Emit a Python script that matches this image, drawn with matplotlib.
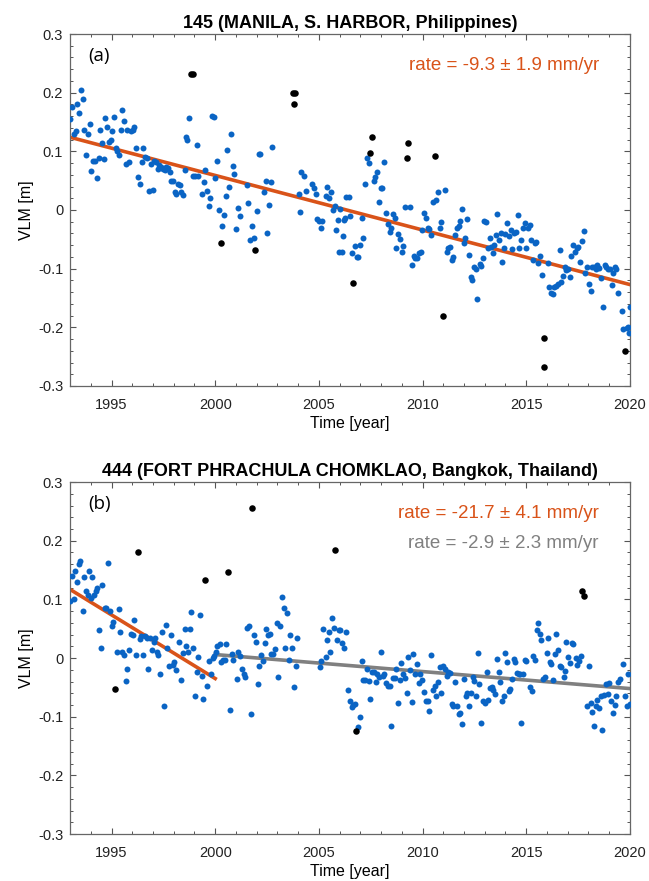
import matplotlib as mpl
mpl.use("agg")
import matplotlib.pyplot as plt
import numpy as np
from matplotlib.ticker import MultipleLocator, FuncFormatter

plt.rcParams["font.family"] = ["Liberation Sans", "DejaVu Sans"]
plt.rcParams["axes.unicode_minus"] = False

BLUE = "#0a64c4"
ORANGE = "#d95319"
GRAY = "#808080"

# ---- panel (a): 145 MANILA ----
a_time = [
    1993.00, 1993.10, 1993.19, 1993.27, 1993.35, 1993.43, 1993.51, 1993.61, 1993.69, 1993.77, 1993.85, 1993.95,
    1994.03, 1994.11, 1994.19, 1994.28, 1994.38, 1994.46, 1994.54, 1994.62, 1994.70, 1994.78, 1994.88, 1994.96,
    1995.04, 1995.12, 1995.20, 1995.28, 1995.36, 1995.44, 1995.52, 1995.60, 1995.68, 1995.76, 1995.84, 1995.92,
    1996.02, 1996.10, 1996.18, 1996.27, 1996.37, 1996.45, 1996.53, 1996.61, 1996.72, 1996.82, 1996.90, 1996.98,
    1997.06, 1997.14, 1997.22, 1997.30, 1997.40, 1997.48, 1997.56, 1997.64, 1997.72, 1997.80, 1997.89, 1997.97,
    1998.05, 1998.13, 1998.21, 1998.29, 1998.37, 1998.46, 1998.52, 1998.59, 1998.65, 1998.73, 1998.91,
    1999.02, 1999.10, 1999.18, 1999.34, 1999.45, 1999.50, 1999.61, 1999.69, 1999.77, 1999.85, 1999.95,
    2000.01, 2000.11, 2000.19, 2000.35, 2000.43, 2000.51, 2000.59, 2000.67, 2000.77, 2000.85, 2000.93,
    2001.01, 2001.10, 2001.18, 2001.52, 2001.60, 2001.68, 2001.76, 2001.86,
    2002.02, 2002.10, 2002.18, 2002.35, 2002.43, 2002.51, 2002.59, 2002.68, 2002.76,
    2004.02, 2004.10, 2004.15, 2004.26, 2004.36, 2004.68, 2004.76, 2004.84, 2004.92,
    2005.00, 2005.08, 2005.16, 2005.32, 2005.40, 2005.48, 2005.60, 2005.68, 2005.76, 2005.84, 2005.92, 2005.99,
    2006.04, 2006.12, 2006.17, 2006.20, 2006.28, 2006.33, 2006.45, 2006.50, 2006.58, 2006.74, 2006.82, 2006.90, 2006.98,
    2007.06, 2007.14, 2007.22, 2007.30, 2007.40, 2007.64, 2007.72, 2007.80, 2007.90, 2007.98,
    2008.06, 2008.14, 2008.24, 2008.32, 2008.41, 2008.48, 2008.56, 2008.65, 2008.74, 2008.82, 2008.91, 2008.99,
    2009.07, 2009.16, 2009.41, 2009.49, 2009.58, 2009.66, 2009.75, 2009.83, 2009.91, 2009.99,
    2010.07, 2010.16, 2010.24, 2010.32, 2010.40, 2010.50, 2010.66, 2010.74, 2010.82, 2010.91,
    2011.08, 2011.16, 2011.24, 2011.32, 2011.41, 2011.49, 2011.58, 2011.66, 2011.74, 2011.82, 2011.91, 2011.99,
    2012.07, 2012.15, 2012.24, 2012.33, 2012.41, 2012.49, 2012.57, 2012.65, 2012.75, 2012.83, 2012.91, 2012.98,
    2013.06, 2013.14, 2013.24, 2013.30, 2013.38, 2013.46, 2013.54, 2013.59, 2013.69, 2013.77, 2013.85, 2013.93, 2013.99,
    2014.09, 2014.17, 2014.25, 2014.33, 2014.40, 2014.49, 2014.59, 2014.67, 2014.75, 2014.85, 2014.93,
    2015.01, 2015.09, 2015.17, 2015.25, 2015.33, 2015.41, 2015.49, 2015.57, 2015.69, 2015.77,
    2016.03, 2016.11, 2016.19, 2016.27, 2016.35, 2016.44, 2016.53, 2016.61, 2016.69, 2016.77, 2016.85, 2016.93,
    2017.01, 2017.09, 2017.17, 2017.27, 2017.35, 2017.43, 2017.51, 2017.61, 2017.70, 2017.78, 2017.86, 2017.95,
    2018.02, 2018.11, 2018.19, 2018.27, 2018.35, 2018.43, 2018.53, 2018.59, 2018.70, 2018.78, 2018.86, 2018.94,
    2019.04, 2019.12, 2019.20, 2019.28, 2019.35, 2019.45, 2019.60, 2019.69, 2019.85, 2019.93, 2019.96, 2020.00,
]
a_vlm = [
    0.155, 0.175, 0.130, 0.135, 0.180, 0.165, 0.205, 0.190, 0.136, 0.094, 0.130, 0.147,
    0.066, 0.083, 0.083, 0.055, 0.089, 0.136, 0.114, 0.087, 0.157, 0.141, 0.116, 0.119,
    0.134, 0.158, 0.105, 0.101, 0.093, 0.136, 0.170, 0.152, 0.078, 0.136, 0.081, 0.135,
    0.136, 0.141, 0.105, 0.057, 0.044, 0.081, 0.105, 0.090, 0.089, 0.032, 0.078, 0.034,
    0.083, 0.081, 0.070, 0.077, 0.074, 0.070, 0.068, 0.074, 0.072, 0.065, 0.050, 0.050,
    0.030, 0.028, 0.045, 0.043, 0.030, 0.026, 0.068, 0.125, 0.119, 0.156, 0.058,
    0.058, 0.111, 0.058, 0.028, 0.048, 0.068, 0.032, 0.007, 0.021, 0.161, 0.158,
    0.054, 0.084, 0.000, -0.028, -0.009, 0.023, 0.103, 0.039, 0.130, 0.075, 0.061,
    -0.033, 0.003, -0.010, 0.043, 0.012, -0.051, -0.027, -0.047,
    -0.001, 0.095, 0.095, 0.031, 0.050, -0.040, 0.009, 0.047, 0.107,
    0.028, -0.003, 0.064, 0.058, 0.032, 0.044, 0.037, 0.028, -0.015,
    -0.019, -0.030, -0.019, 0.023, 0.040, 0.021, 0.030, 0.000, 0.007, -0.034, -0.017, -0.071,
    0.002, -0.071, -0.045, -0.017, -0.014, 0.022, 0.022, -0.011, -0.073, -0.061, -0.080, -0.080, -0.059,
    -0.013, -0.048, 0.044, 0.089, 0.080, 0.049, 0.057, 0.064, 0.013, 0.037,
    0.038, 0.082, -0.005, -0.024, -0.038, -0.030, -0.007, -0.013, -0.065, -0.041, -0.049, -0.071,
    -0.061, 0.005, 0.005, -0.094, -0.078, -0.081, -0.081, -0.073, -0.071, -0.034,
    -0.005, -0.014, -0.030, -0.033, -0.043, 0.013, 0.017, 0.030, -0.030, -0.020,
    0.034, -0.071, -0.065, -0.063, -0.085, -0.080, -0.043, -0.030, -0.028, -0.018, 0.001, -0.057,
    -0.047, -0.015, -0.077, -0.115, -0.119, -0.098, -0.101, -0.152, -0.092, -0.095, -0.081, -0.018,
    -0.020, -0.065, -0.048, -0.063, -0.073, -0.060, -0.043, -0.007, -0.052, -0.040, -0.089, -0.065, -0.041,
    -0.022, -0.044, -0.034, -0.067, -0.040, -0.037, -0.009, -0.065, -0.052, -0.031, -0.022,
    -0.065, -0.031, -0.026, -0.051, -0.085, -0.057, -0.054, -0.091, -0.078, -0.111,
    -0.091, -0.132, -0.142, -0.144, -0.131, -0.130, -0.127, -0.068, -0.123, -0.112, -0.098, -0.103,
    -0.101, -0.115, -0.078, -0.060, -0.071, -0.065, -0.063, -0.089, -0.053, -0.036, -0.108, -0.098,
    -0.126, -0.138, -0.098, -0.097, -0.101, -0.093, -0.099, -0.116, -0.166, -0.094, -0.097, -0.101,
    -0.101, -0.128, -0.108, -0.098, -0.101, -0.142, -0.172, -0.203, -0.201, -0.199, -0.210, -0.166,
]
a_out_time = [1998.83, 1998.92, 2000.27, 2001.94, 2003.75, 2003.85, 2003.80, 2006.65, 2007.48, 2007.58,
              2009.24, 2009.32, 2010.58, 2011.01, 2015.85, 2015.88, 2019.77]
a_out_vlm = [0.232, 0.232, -0.056, -0.068, 0.200, 0.200, 0.180, -0.125, 0.097, 0.124,
             0.089, 0.115, 0.092, -0.180, -0.267, -0.219, -0.240]
# trend: (start year, end year, value at start, rate mm/yr)
a_fits = [(1993.0, 2020.0, 0.124, -9.3)]
a_labels = ["rate = -9.3 \u00b1 1.9 mm/yr"]

# ---- panel (b): 444 FORT PHRACHULA CHOMKLAO ----
b_time = [
    1993.00, 1993.08, 1993.18, 1993.26, 1993.34, 1993.42, 1993.50, 1993.60, 1993.68, 1993.76, 1993.84, 1993.92,
    1994.00, 1994.08, 1994.16, 1994.24, 1994.32, 1994.40, 1994.48, 1994.56, 1994.66, 1994.74, 1994.84, 1994.92,
    1995.00, 1995.08, 1995.26, 1995.34, 1995.42, 1995.50, 1995.60, 1995.68, 1995.76, 1995.84, 1995.92,
    1996.02, 1996.10, 1996.18, 1996.35, 1996.44, 1996.53, 1996.61, 1996.69, 1996.77, 1996.85, 1996.94,
    1997.03, 1997.11, 1997.18, 1997.26, 1997.34, 1997.44, 1997.53, 1997.61, 1997.69, 1997.77, 1997.87, 1997.95,
    1998.03, 1998.11, 1998.27, 1998.35, 1998.44, 1998.52, 1998.60, 1998.68, 1998.76, 1998.84, 1998.92,
    1999.03, 1999.11, 1999.19, 1999.27, 1999.35, 1999.43, 1999.62, 1999.72, 1999.80, 1999.88, 1999.95,
    2000.04, 2000.11, 2000.21, 2000.29, 2000.37, 2000.45, 2000.53, 2000.71, 2000.79, 2000.87,
    2001.04, 2001.12, 2001.20, 2001.29, 2001.37, 2001.45, 2001.53, 2001.63, 2001.71, 2001.87, 2001.96,
    2002.04, 2002.12, 2002.21, 2002.29, 2002.38, 2002.46, 2002.54, 2002.63, 2002.71, 2002.79, 2002.88, 2002.96,
    2003.04, 2003.12, 2003.21, 2003.30, 2003.38, 2003.46, 2003.54, 2003.62, 2003.72, 2003.80, 2003.88, 2003.96,
    2005.04, 2005.12, 2005.21, 2005.32, 2005.40, 2005.48, 2005.56, 2005.64, 2005.72, 2005.88, 2005.96,
    2006.04, 2006.12, 2006.20, 2006.32, 2006.40, 2006.50, 2006.58, 2006.66, 2006.74, 2006.90, 2006.98,
    2007.06, 2007.14, 2007.22, 2007.30, 2007.40, 2007.48, 2007.58, 2007.66, 2007.74, 2007.82, 2007.90, 2007.99,
    2008.08, 2008.16, 2008.24, 2008.33, 2008.41, 2008.49, 2008.58, 2008.66, 2008.74, 2008.82, 2008.90, 2008.98,
    2009.08, 2009.16, 2009.24, 2009.32, 2009.40, 2009.48, 2009.56, 2009.66, 2009.74, 2009.82, 2009.90, 2009.99,
    2010.07, 2010.16, 2010.24, 2010.32, 2010.40, 2010.50, 2010.58, 2010.66, 2010.74, 2010.82, 2010.91, 2010.99,
    2011.08, 2011.16, 2011.24, 2011.32, 2011.41, 2011.49, 2011.58, 2011.66, 2011.74, 2011.82, 2011.91, 2011.99,
    2012.08, 2012.16, 2012.24, 2012.32, 2012.42, 2012.49, 2012.58, 2012.66, 2012.74, 2012.83, 2012.91, 2012.99,
    2013.09, 2013.17, 2013.25, 2013.33, 2013.41, 2013.51, 2013.59, 2013.67, 2013.75, 2013.83, 2013.91, 2013.99,
    2014.07, 2014.16, 2014.24, 2014.32, 2014.40, 2014.48, 2014.56, 2014.64, 2014.72, 2014.77, 2014.85, 2014.93,
    2015.01, 2015.19, 2015.27, 2015.35, 2015.43, 2015.51, 2015.59, 2015.67, 2015.72, 2015.80, 2015.90, 2015.98,
    2016.06, 2016.14, 2016.22, 2016.30, 2016.38, 2016.46, 2016.54, 2016.62, 2016.70, 2016.80, 2016.88, 2016.94,
    2017.04, 2017.12, 2017.20, 2017.28, 2017.38, 2017.46, 2017.54, 2017.62, 2017.94,
    2018.02, 2018.11, 2018.19, 2018.27, 2018.35, 2018.43, 2018.51, 2018.59, 2018.67, 2018.75, 2018.85, 2018.93,
    2019.01, 2019.11, 2019.19, 2019.27, 2019.35, 2019.43, 2019.51, 2019.67, 2019.77, 2019.85, 2019.93, 2019.99,
]
b_vlm = [
    0.098, 0.140, 0.101, 0.148, 0.130, 0.161, 0.166, 0.081, 0.139, 0.114, 0.107, 0.149,
    0.102, 0.138, 0.108, 0.114, 0.119, 0.047, 0.017, 0.125, 0.085, 0.086, 0.162, 0.081,
    0.054, 0.061, 0.011, 0.084, 0.044, 0.011, 0.006, -0.039, -0.018, 0.013, 0.041,
    0.040, 0.065, 0.006, 0.033, 0.037, 0.006, 0.037, 0.034, -0.019, 0.035, 0.013,
    0.027, 0.034, 0.010, 0.005, -0.028, 0.044, -0.082, 0.057, 0.017, -0.014, 0.040, -0.011,
    -0.006, -0.020, 0.028, -0.038, 0.009, 0.049, 0.020, 0.011, 0.050, 0.078, 0.018,
    -0.064, -0.023, 0.001, 0.073, -0.030, -0.070, -0.047, -0.005, -0.027, 0.000, 0.003,
    0.010, 0.021, 0.024, -0.007, -0.003, -0.003, 0.024, -0.088, 0.007, -0.004,
    -0.036, 0.011, 0.003, -0.019, -0.027, -0.033, 0.051, 0.054, -0.095, 0.039, 0.027,
    -0.044, -0.014, 0.006, -0.005, 0.026, 0.050, 0.040, 0.041, 0.007, 0.007, 0.015, 0.060,
    -0.033, 0.054, 0.104, 0.085, 0.017, 0.076, -0.003, 0.040, 0.017, -0.049, -0.014, 0.035,
    -0.016, -0.005, 0.049, 0.002, 0.030, 0.045, 0.010, 0.069, 0.052, 0.030, 0.048,
    0.047, 0.026, 0.017, 0.045, -0.054, -0.073, -0.084, -0.080, -0.078, -0.118, -0.101,
    -0.005, -0.037, -0.038, -0.018, -0.039, -0.069, -0.023, -0.023, -0.041, -0.028, -0.032, 0.010,
    -0.031, -0.028, -0.043, -0.047, -0.048, -0.116, -0.034, -0.034, -0.018, -0.077, -0.037, -0.009,
    -0.027, -0.034, -0.060, 0.002, -0.020, -0.075, 0.007, -0.028, -0.010, -0.043, -0.028, -0.037,
    -0.058, -0.074, -0.073, -0.091, 0.006, -0.054, -0.048, -0.064, -0.041, -0.015, -0.059, -0.014,
    -0.018, -0.031, -0.023, -0.026, -0.078, -0.081, -0.041, -0.082, -0.095, -0.094, -0.113, -0.036,
    -0.064, -0.059, -0.081, -0.060, -0.032, -0.039, -0.064, 0.009, -0.045, -0.110, -0.073, -0.077,
    -0.023, -0.071, -0.051, -0.050, -0.054, -0.061, -0.002, -0.024, -0.041, -0.073, -0.065, 0.009,
    -0.007, -0.057, -0.052, -0.036, -0.001, -0.006, -0.026, -0.027, -0.028, -0.110, -0.028, -0.003,
    -0.005, -0.050, -0.057, 0.004, -0.003, 0.047, 0.059, 0.041, 0.031, -0.036, -0.033, 0.009,
    0.034, -0.007, -0.010, -0.037, 0.007, 0.041, 0.014, -0.013, -0.016, -0.032, -0.022, 0.027,
    0.001, -0.009, 0.026, 0.024, 0.000, -0.011, -0.005, 0.003, -0.082,
    -0.013, -0.077, -0.092, -0.115, -0.082, -0.071, -0.085, -0.064, -0.123, -0.063, -0.045, -0.061,
    -0.043, -0.074, -0.094, -0.080, -0.065, -0.040, -0.036, -0.010, -0.065, -0.081, -0.028, -0.078,
]
b_out_time = [1995.18, 1996.27, 1999.52, 2000.62, 2001.79, 2005.80, 2006.80, 2017.70, 2017.78]
b_out_vlm = [-0.052, 0.181, 0.133, 0.147, 0.255, 0.185, -0.124, 0.115, 0.106]
b_fits = [(1993.0, 2000.0, 0.117, -21.7), (2000.0, 2020.0, 0.006, -2.9)]
b_labels = ["rate = -21.7 \u00b1 4.1 mm/yr", "rate = -2.9 \u00b1 2.3 mm/yr"]

titles = ["145 (MANILA, S. HARBOR, Philippines)",
          "444 (FORT PHRACHULA CHOMKLAO, Bangkok, Thailand)"]
fit_colors = [ORANGE, GRAY]


def draw_panel(ax, t, v, t_out, v_out, fits, labels, title, tag):
    for (t0, t1, y0, rate), col in zip(fits, fit_colors):
        tt = np.array([t0, t1])
        ax.plot(tt, y0 + rate / 1000.0 * (tt - t0), color=col, lw=2.6, zorder=2)
    ax.plot(t, v, "o", ms=4.3, color=BLUE, mec="none", zorder=3)
    ax.plot(t_out, v_out, "o", ms=4.7, color="black", mec="none", zorder=3)

    ax.set_xlim(1993, 2020)
    ax.set_ylim(-0.3, 0.3)
    ax.xaxis.set_major_locator(MultipleLocator(5))
    ax.xaxis.set_minor_locator(MultipleLocator(1))
    ax.yaxis.set_major_locator(MultipleLocator(0.1))
    ax.yaxis.set_minor_locator(MultipleLocator(0.02))
    ax.yaxis.set_major_formatter(FuncFormatter(lambda y, p: "{:g}".format(round(y, 2))))
    ax.tick_params(which="both", direction="in", top=True, right=True,
                   color="#555555", labelsize=10.5, labelcolor="#222222")
    ax.tick_params(which="major", length=4.5, width=0.8)
    ax.tick_params(which="minor", length=2.5, width=0.7)
    ax.tick_params(axis="x", which="major", pad=8.5)
    ax.tick_params(axis="y", which="major", pad=5)
    for s in ax.spines.values():
        s.set_color("#666666")
        s.set_linewidth(0.9)

    ax.set_title(title, fontsize=13, fontweight="bold", pad=4.5)
    ax.set_xlabel("Time [year]", fontsize=11.5, labelpad=3)
    ax.set_ylabel("VLM [m]", fontsize=11.5, labelpad=3)
    ax.text(1994.4, 0.262, tag, fontsize=13.5, ha="center", va="center",
            family=["Open Sans", "DejaVu Sans"])
    for i, (lab, col) in enumerate(zip(labels, fit_colors)):
        ax.text(2018.5, 0.247 - 0.051 * i, lab, color=col, fontsize=13.5,
                ha="right", va="center")


fig = plt.figure(figsize=(6.49, 8.81), dpi=100)
ax1 = fig.add_axes([0.108, 0.5619, 0.8625, 0.3995])
ax2 = fig.add_axes([0.108, 0.0533, 0.8625, 0.3995])

draw_panel(ax1, a_time, a_vlm, a_out_time, a_out_vlm, a_fits, a_labels, titles[0], "(a)")
draw_panel(ax2, b_time, b_vlm, b_out_time, b_out_vlm, b_fits, b_labels, titles[1], "(b)")

fig.savefig("out.png", dpi=100)
